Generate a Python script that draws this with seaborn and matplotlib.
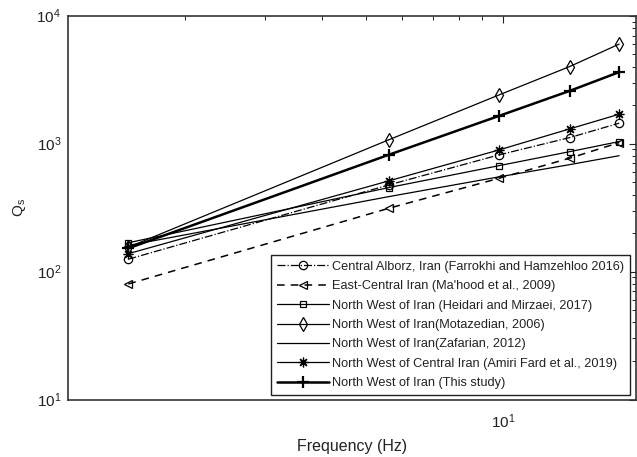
import matplotlib
matplotlib.use("Agg")
import matplotlib.pyplot as plt
import seaborn as sns
import pandas as pd

# Frequencies (Hz) at which each Qs model is evaluated
freq = [1.5, 5.6, 9.8, 14, 18]

# Qs values per study
q_farrokhi = [125, 475, 817, 1114, 1445]
q_mahood = [80, 312, 536, 769, 1018]
q_heidari = [168, 453, 673, 865, 1038]
q_motazedian = [155, 1070, 2404, 4000, 6000]
q_zafarian = [160, 385, 550, 685, 805]
q_amiri = [138, 511, 893, 1303, 1698]
q_this = [152, 817, 1648, 2582, 3622]

labels = [
    "Central Alborz, Iran (Farrokhi and Hamzehloo 2016)",
    "East-Central Iran (Ma'hood et al., 2009)",
    "North West of Iran (Heidari and Mirzaei, 2017)",
    "North West of Iran(Motazedian, 2006)",
    "North West of Iran(Zafarian, 2012)",
    "North West of Central Iran (Amiri Fard et al., 2019)",
    "North West of Iran (This study)",
]
series = [q_farrokhi, q_mahood, q_heidari, q_motazedian, q_zafarian, q_amiri, q_this]

df = pd.concat(
    [pd.DataFrame({"Frequency": freq, "Qs": q, "study": lab}) for lab, q in zip(labels, series)],
    ignore_index=True,
)

sns.set_style("white")
plt.rcParams["font.family"] = ["Liberation Sans", "DejaVu Sans"]
plt.rcParams["mathtext.fontset"] = "custom"
plt.rcParams["mathtext.rm"] = "Liberation Sans"
plt.rcParams["mathtext.it"] = "Liberation Sans:italic"
plt.rcParams["mathtext.default"] = "regular"

# asterisk marker made of eight spokes
asterisk = (8, 2, 0)

styles = [
    dict(linestyle="-.", marker="o", markersize=6, linewidth=0.9),
    dict(linestyle=(0, (5, 4)), marker="<", markersize=6, linewidth=1.1),
    dict(linestyle="-", marker="s", markersize=5, linewidth=0.9),
    dict(linestyle="-", marker="d", markersize=7, linewidth=0.9),
    dict(linestyle="-", marker=None, linewidth=0.9),
    dict(linestyle="-", marker=asterisk, markersize=7, linewidth=0.9),
    dict(linestyle="-", marker="+", markersize=8, linewidth=1.8),
]

fig = plt.figure(figsize=(6.37, 4.57), dpi=100)
ax = fig.add_axes([68 / 637, 1 - 399.5 / 457, (636 - 68) / 637, (399.5 - 15.7) / 457])

for lab, st in zip(labels, styles):
    sub = df[df["study"] == lab]
    kw = dict(st)
    if kw.get("marker") is not None:
        thick = kw["marker"] == "+"
        kw.update(markerfacecolor="none", mec="k", mew=1.6 if thick else 0.9)
    sns.lineplot(data=sub, x="Frequency", y="Qs", ax=ax, color="k", label=lab, **kw)

ax.set_xscale("log")
ax.set_yscale("log")
ax.set_xlim(1.105, 19.6)
ax.set_ylim(10, 1e4)

ax.tick_params(which="both", direction="in", top=True, right=True,
               labelsize=11, colors="#222222")
ax.tick_params(which="major", length=5, width=0.8)
ax.tick_params(which="minor", length=3, width=0.7)
ax.tick_params(axis="x", which="major", pad=9)
ax.tick_params(axis="y", which="major", pad=5)
for s in ax.spines.values():
    s.set_linewidth(1.2)
    s.set_color("#333333")

ax.set_xlabel("Frequency (Hz)", fontsize=11.5, labelpad=6, color="#222222")
ax.set_ylabel("Q$_s$", fontsize=11, labelpad=6, color="#222222")

leg = ax.legend(loc="lower left", bbox_to_anchor=(271 / 637, (457 - 395) / 457),
                bbox_transform=fig.transFigure, fontsize=9.2, frameon=True,
                fancybox=False, framealpha=1, edgecolor="#222222",
                handlelength=4.1, handletextpad=0.25, labelspacing=0.58,
                borderpad=0.45, borderaxespad=0)
leg.get_frame().set_linewidth(1.0)
for t in leg.get_texts():
    t.set_color("#222222")

fig.savefig("out.png", dpi=100)
